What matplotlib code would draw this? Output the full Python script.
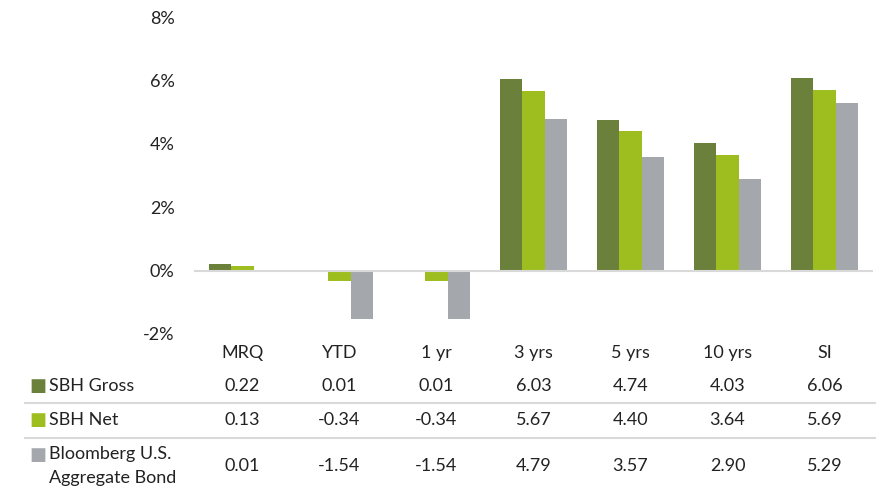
import numpy as np
import matplotlib
matplotlib.use("Agg")
import matplotlib.pyplot as plt
from matplotlib.transforms import blended_transform_factory

# data
categories = ["MRQ", "YTD", "1 yr", "3 yrs", "5 yrs", "10 yrs", "SI"]
series_names = ["SBH Gross", "SBH Net", "Bloomberg U.S.\nAggregate Bond"]
sbh_gross = [0.22, 0.01, 0.01, 6.03, 4.74, 4.03, 6.06]
sbh_net = [0.13, -0.34, -0.34, 5.67, 4.40, 3.64, 5.69]
bloomberg = [0.01, -1.54, -1.54, 4.79, 3.57, 2.90, 5.29]
y_ticks = [-2, 0, 2, 4, 6, 8]

colors = ["#6B803B", "#9DBE1E", "#A4A8AC"]
plt.rcParams["font.family"] = ["Lato", "DejaVu Sans"]
fs = 13

W, H = 879, 492
fig = plt.figure(figsize=(W / 100, H / 100), dpi=100)
ax = fig.add_axes([194 / W, (H - 334) / H, 679 / W, 317 / H])

x = np.arange(len(categories))
bw = 0.227
for i, vals in enumerate([sbh_gross, sbh_net, bloomberg]):
    ax.bar(x + (i - 1) * bw, vals, bw, color=colors[i], zorder=2)

ax.axhline(0, color="#D9D9D9", lw=1.5, zorder=3)
ax.set_xlim(-0.5, len(categories) - 0.5)
ax.set_ylim(-2, 8)
ax.set_yticks(y_ticks)
ax.set_yticklabels([f"{t}%" for t in y_ticks], fontsize=fs, color="#222222")
ax.tick_params(axis="y", length=0, pad=14)
ax.set_xticks([])
for s in ax.spines.values():
    s.set_visible(False)

# table under the chart
tr = blended_transform_factory(ax.transData, fig.transFigure)
fy = lambda py: 1 - py / H
for xi, c in zip(x, categories):
    ax.text(xi, fy(353), c, transform=tr, ha="center", va="center",
            fontsize=fs, color="#222222")

row_y = [386, 420, 466]
for r, (name, vals) in enumerate(zip(series_names, [sbh_gross, sbh_net, bloomberg])):
    yy = fy(row_y[r])
    sq_y = fy(row_y[r] - 11) if r == 2 else yy
    fig.text(29 / W, sq_y, "\u25A0", color=colors[r], fontsize=13,
             ha="left", va="center", family="DejaVu Sans")
    fig.text(49 / W, yy, name, fontsize=fs, color="#222222",
             ha="left", va="center", linespacing=1.55)
    for xi, v in zip(x, vals):
        ax.text(xi, yy, f"{v:.2f}", transform=tr, ha="center", va="center",
                fontsize=fs, color="#222222")

for ly in [403, 438]:
    fig.add_artist(plt.Line2D([25 / W, 875 / W], [fy(ly), fy(ly)],
                              color="#D9D9D9", lw=1.5, transform=fig.transFigure))

fig.savefig("out.png", dpi=100)
